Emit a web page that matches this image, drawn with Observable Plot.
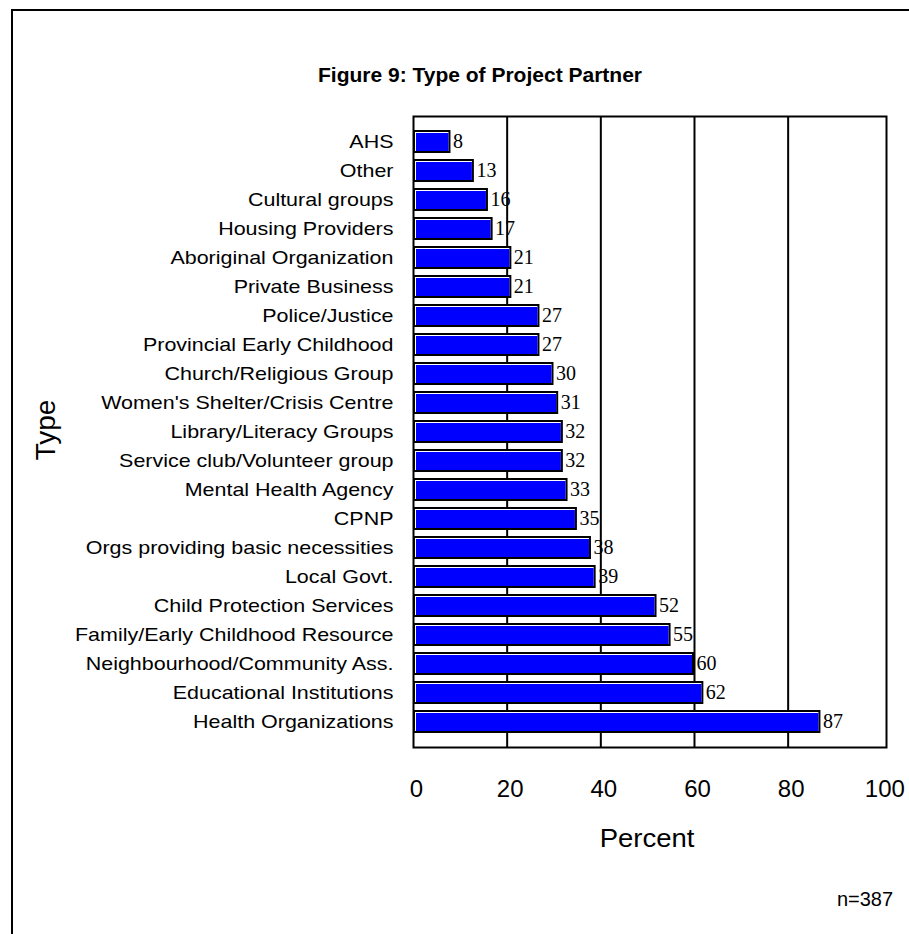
<!DOCTYPE html>
<html>
<head>
<meta charset="utf-8">
<script src="https://cdn.jsdelivr.net/npm/d3@7"></script>
<script src="https://cdn.jsdelivr.net/npm/@observablehq/plot@0.6"></script>
<style>
  html, body { margin: 0; padding: 0; background: #fff; overflow: hidden; }
  #wrap { position: relative; width: 909px; height: 934px; overflow: hidden; background: #fff; }
  #border { position: absolute; left: 11px; top: 9px; width: 1000px; height: 1000px; border: 2px solid #000; box-sizing: border-box; }
  #chart, #overlay { position: absolute; left: 0; top: 0; }
  #overlay { pointer-events: none; }
</style>
</head>
<body>
<div id="wrap">
  <div id="border"></div>
  <div id="chart"></div>
  <svg id="overlay" width="909" height="934" font-family="'Liberation Sans', Arial, sans-serif">
    <text x="480" y="82" text-anchor="middle" font-size="21" font-weight="bold" fill="#000">Figure 9: Type of Project Partner</text>
    <text transform="translate(55,430) rotate(-90)" text-anchor="middle" font-size="28" fill="#000">Type</text>
    <text transform="translate(647,847) scale(1.1,1)" text-anchor="middle" font-size="25" fill="#000">Percent</text>
    <text x="865" y="906" text-anchor="middle" font-size="20" fill="#000">n=387</text>
  </svg>
</div>
<script>
// Categories, top to bottom as drawn
const categories = [
  "AHS",
  "Other",
  "Cultural groups",
  "Housing Providers",
  "Aboriginal Organization",
  "Private Business",
  "Police/Justice",
  "Provincial Early Childhood",
  "Church/Religious Group",
  "Women's Shelter/Crisis Centre",
  "Library/Literacy Groups",
  "Service club/Volunteer group",
  "Mental Health Agency",
  "CPNP",
  "Orgs providing basic necessities",
  "Local Govt.",
  "Child Protection Services",
  "Family/Early Childhood Resource",
  "Neighbourhood/Community Ass.",
  "Educational Institutions",
  "Health Organizations"
];
// Percent values (as labelled)
const percents = [8, 13, 16, 17, 21, 21, 27, 27, 30, 31, 32, 32, 33, 35, 38, 39, 52, 55, 60, 62, 87];
// Axis ticks
const xTicks = [0, 20, 40, 60, 80, 100];
const gridTicks = [20, 40, 60, 80];

const data = categories.map((c, i) => ({ type: c, pct: percents[i] }));

const chart = Plot.plot({
  width: 909,
  height: 934,
  marginLeft: 413,
  marginRight: 23,
  marginTop: 116,
  marginBottom: 187,
  style: { background: "transparent", fontFamily: "'Liberation Sans', Arial, sans-serif", color: "#000" },
  x: { domain: [0, 101], label: null },
  y: { domain: categories, padding: 0.2, label: null },
  marks: [
    Plot.ruleX(gridTicks, { stroke: "#000", strokeWidth: 2 }),
    Plot.barX(data, { x: "pct", y: "type", fill: "#000" }),
    Plot.barX(data, { x: "pct", y: "type", fill: "#fff", insetTop: 2, insetBottom: 2, insetLeft: 2, insetRight: 2 }),
    Plot.barX(data, { x: "pct", y: "type", fill: "#0000ff", insetTop: 3, insetBottom: 2, insetLeft: 3, insetRight: 2 }),
    Plot.text(data, { x: "pct", y: "type", text: d => String(d.pct), textAnchor: "start", dx: 2, fontFamily: "'Liberation Serif', 'Times New Roman', serif", fontSize: 20, fill: "#000" }),
    Plot.frame({ stroke: "#000", strokeWidth: 2 }),
    Plot.axisY({ tickSize: 0, tickPadding: 20, fontSize: 19, label: null }),
    Plot.axisX({ ticks: xTicks, tickSize: 0, tickPadding: 32, fontSize: 24, dx: 3, label: null })
  ]
});

document.getElementById("chart").appendChild(chart);

// Slightly widen the category labels to match the reference's stretched lettering
d3.select(chart).selectAll('g[aria-label="y-axis tick label"] text')
  .attr("transform", function () { return (this.getAttribute("transform") || "") + " scale(1.13,1)"; })
  .attr("fill", "#000");
d3.select(chart).selectAll('g[aria-label="x-axis tick label"] text').attr("fill", "#000");
</script>
</body>
</html>
